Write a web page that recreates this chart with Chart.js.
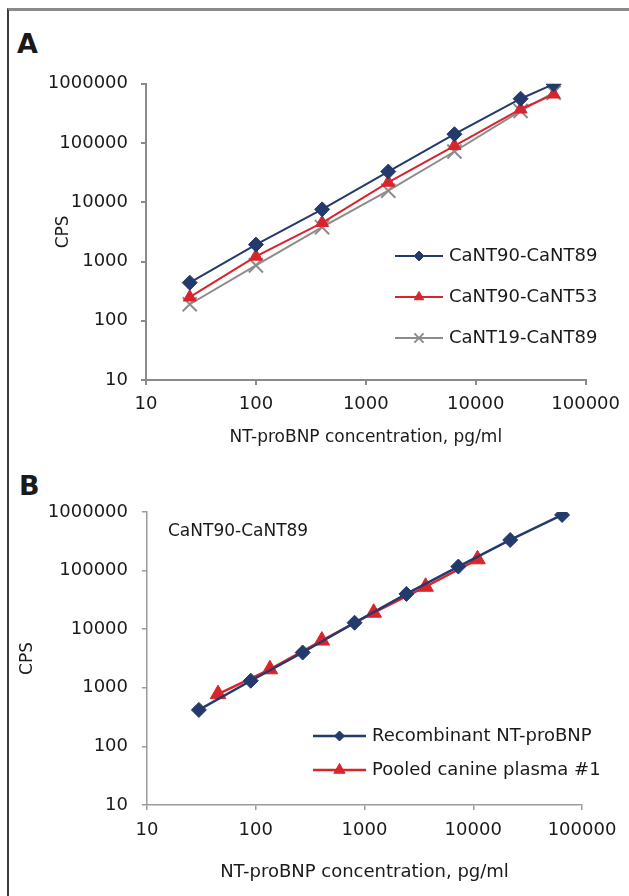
<!DOCTYPE html>
<html>
<head>
<meta charset="utf-8">
<script src="https://cdn.jsdelivr.net/npm/chart.js@4.4.1/dist/chart.umd.min.js"></script>
<style>
    html, body { margin: 0; padding: 0; background: #fff; }
    body { width: 629px; height: 896px; position: relative; overflow: hidden; font-family: "DejaVu Sans", sans-serif; }
    .frame { position: absolute; left: 7px; top: 8px; right: -10px; bottom: -10px; border-top: 3px solid #8a8a8a; border-left: 2px solid #3c3c3c; }
    .panel { position: absolute; font-weight: bold; font-size: 27px; color: #1a1a1a; line-height: 1; }
    .box { position: absolute; left: 0; width: 629px; }
    .note { position: absolute; font-size: 17px; color: #1a1a1a; line-height: 1; }
</style>
</head>
<body>
<div class="frame"></div>
<div class="panel" style="left:17px; top:30px;">A</div>
<div class="panel" style="left:19px; top:472px;">B</div>
<div class="box" style="top:60px; height:400px;"><canvas id="chartA"></canvas></div>
<div class="box" style="top:460px; height:436px;"><canvas id="chartB"></canvas></div>
<div class="note" style="left:168px; top:522px;">CaNT90-CaNT89</div>

<script>
// Panel A: three antibody pairs
const concA = [25, 100, 400, 1600, 6400, 25600, 51200];
const cps9089 = [440, 1930, 7600, 33000, 141000, 560000, 990000];
const cps9053 = [250, 1220, 4500, 21600, 90000, 372000, 665000];
const cps1989 = [190, 860, 3800, 15700, 72000, 348000, 708000];

// Panel B: recombinant vs pooled plasma
const concRecomb = [30, 90, 270, 810, 2430, 7290, 21870, 65610];
const cpsRecomb = [420, 1320, 4000, 12900, 40000, 117000, 333000, 890000];
const concPlasma = [45, 135, 405, 1215, 3645, 10935];
const cpsPlasma = [780, 2070, 6400, 19100, 53000, 156000];

const xTicks = [10, 100, 1000, 10000, 100000];
const yTicks = [10, 100, 1000, 10000, 100000, 1000000];

const NAVY = '#243a6c';
const RED = '#d9242c';
const GREY = '#8c8c8c';
const TEXT = '#1a1a1a';
const FONT = '"DejaVu Sans", sans-serif';

function points(xs, ys) {
    return xs.map((x, i) => ({ x: x, y: ys[i] }));
}

// legend drawn inside the plot
const insideLegend = {
    id: 'insideLegend',
    afterDraw(chart, args, opts) {
        const ctx = chart.ctx;
        ctx.save();
        ctx.font = opts.fontSize + 'px ' + FONT;
        ctx.textBaseline = 'middle';
        chart.data.datasets.forEach((ds, i) => {
            const y = opts.y + i * opts.rowGap;
            ctx.strokeStyle = ds.borderColor;
            ctx.lineWidth = ds.borderWidth;
            ctx.beginPath();
            ctx.moveTo(opts.x, y);
            ctx.lineTo(opts.x + opts.lineLen, y);
            ctx.stroke();
            ctx.fillStyle = ds.pointBackgroundColor;
            ctx.strokeStyle = ds.pointBorderColor;
            ctx.lineWidth = ds.pointBorderWidth;
            Chart.helpers.drawPoint(ctx, {
                pointStyle: ds.pointStyle,
                radius: opts.markerRadius[i],
                borderWidth: ds.pointBorderWidth,
                rotation: 0
            }, opts.x + opts.lineLen / 2, y);
            ctx.fillStyle = TEXT;
            ctx.fillText(ds.label, opts.x + opts.lineLen + opts.textGap, y);
        });
        ctx.restore();
    }
};

function logAxis(cfg) {
    return {
        type: 'logarithmic',
        position: cfg.position,
        min: cfg.min,
        max: cfg.max,
        afterBuildTicks: s => { s.ticks = cfg.ticks.map(v => ({ value: v })); },
        afterFit: s => {
            if (cfg.position === 'left') s.width = cfg.size; else s.height = cfg.size;
        },
        ticks: {
            callback: v => String(v),
            font: { family: FONT, size: cfg.fontSize },
            color: TEXT,
            padding: cfg.tickPad,
            maxRotation: 0,
            autoSkip: false
        },
        grid: { display: true, drawOnChartArea: false, drawTicks: true, tickLength: 5, color: cfg.lineColor, lineWidth: cfg.lineWidth },
        border: { display: true, color: cfg.lineColor, width: cfg.lineWidth },
        title: { display: true, text: cfg.title, color: TEXT, font: { family: FONT, size: cfg.titleSize }, padding: cfg.titlePad }
    };
}

function makeChart(id, datasets, opt) {
    return new Chart(document.getElementById(id).getContext('2d'), {
        type: 'line',
        data: { datasets: datasets },
        options: {
            responsive: true,
            maintainAspectRatio: false,
            animation: false,
            layout: { padding: opt.padding },
            elements: { line: { tension: 0 } },
            plugins: {
                legend: { display: false },
                tooltip: { enabled: false },
                insideLegend: opt.legend
            },
            scales: {
                x: logAxis(Object.assign({ position: 'bottom', min: 10, max: 100000, ticks: xTicks, title: 'NT-proBNP concentration, pg/ml' }, opt.x)),
                y: logAxis(Object.assign({ position: 'left', min: 10, max: 1000000, ticks: yTicks, title: 'CPS' }, opt.y))
            }
        },
        plugins: [insideLegend]
    });
}

makeChart('chartA', [
    { label: 'CaNT90-CaNT89', data: points(concA, cps9089), borderColor: NAVY, borderWidth: 2, pointStyle: 'rectRot', pointRadius: 7.5, pointBackgroundColor: NAVY, pointBorderColor: NAVY, pointBorderWidth: 1 },
    { label: 'CaNT90-CaNT53', data: points(concA, cps9053), borderColor: RED, borderWidth: 2, pointStyle: 'triangle', pointRadius: 7.5, pointBackgroundColor: RED, pointBorderColor: RED, pointBorderWidth: 1 },
    { label: 'CaNT19-CaNT89', data: points(concA, cps1989), borderColor: GREY, borderWidth: 2, pointStyle: 'crossRot', pointRadius: 10, pointBackgroundColor: GREY, pointBorderColor: GREY, pointBorderWidth: 2 }
], {
    padding: { left: 50, right: 40, top: 23, bottom: 0 },
    x: { size: 80, fontSize: 18, titleSize: 17, tickPad: 9, titlePad: { top: 0, bottom: 12 }, lineColor: '#8a8a8a', lineWidth: 2 },
    y: { size: 96, fontSize: 18, titleSize: 17, tickPad: 13, titlePad: { top: 3, bottom: 0 }, lineColor: '#8a8a8a', lineWidth: 2 },
    legend: { x: 395, y: 196, rowGap: 41, lineLen: 48, textGap: 6, fontSize: 18, markerRadius: [5, 5.5, 6.5] }
});

makeChart('chartB', [
    { label: 'Recombinant NT-proBNP', data: points(concRecomb, cpsRecomb), borderColor: NAVY, borderWidth: 2.5, pointStyle: 'rectRot', pointRadius: 7.5, pointBackgroundColor: NAVY, pointBorderColor: NAVY, pointBorderWidth: 1 },
    { label: 'Pooled canine plasma #1', data: points(concPlasma, cpsPlasma), borderColor: RED, borderWidth: 2.5, pointStyle: 'triangle', pointRadius: 9, pointBackgroundColor: RED, pointBorderColor: RED, pointBorderWidth: 1 }
], {
    padding: { left: 14, right: 47, top: 52, bottom: 0 },
    x: { size: 91, fontSize: 18, titleSize: 18, tickPad: 10, titlePad: { top: 0, bottom: 13 }, lineColor: '#9a9a9a', lineWidth: 1.5 },
    y: { size: 133, fontSize: 18, titleSize: 17, tickPad: 14, titlePad: { top: 3, bottom: 0 }, lineColor: '#9a9a9a', lineWidth: 1.5 },
    legend: { x: 313, y: 276, rowGap: 34, lineLen: 53, textGap: 6, fontSize: 18, markerRadius: [5, 6.5] }
});
</script>
</body>
</html>
